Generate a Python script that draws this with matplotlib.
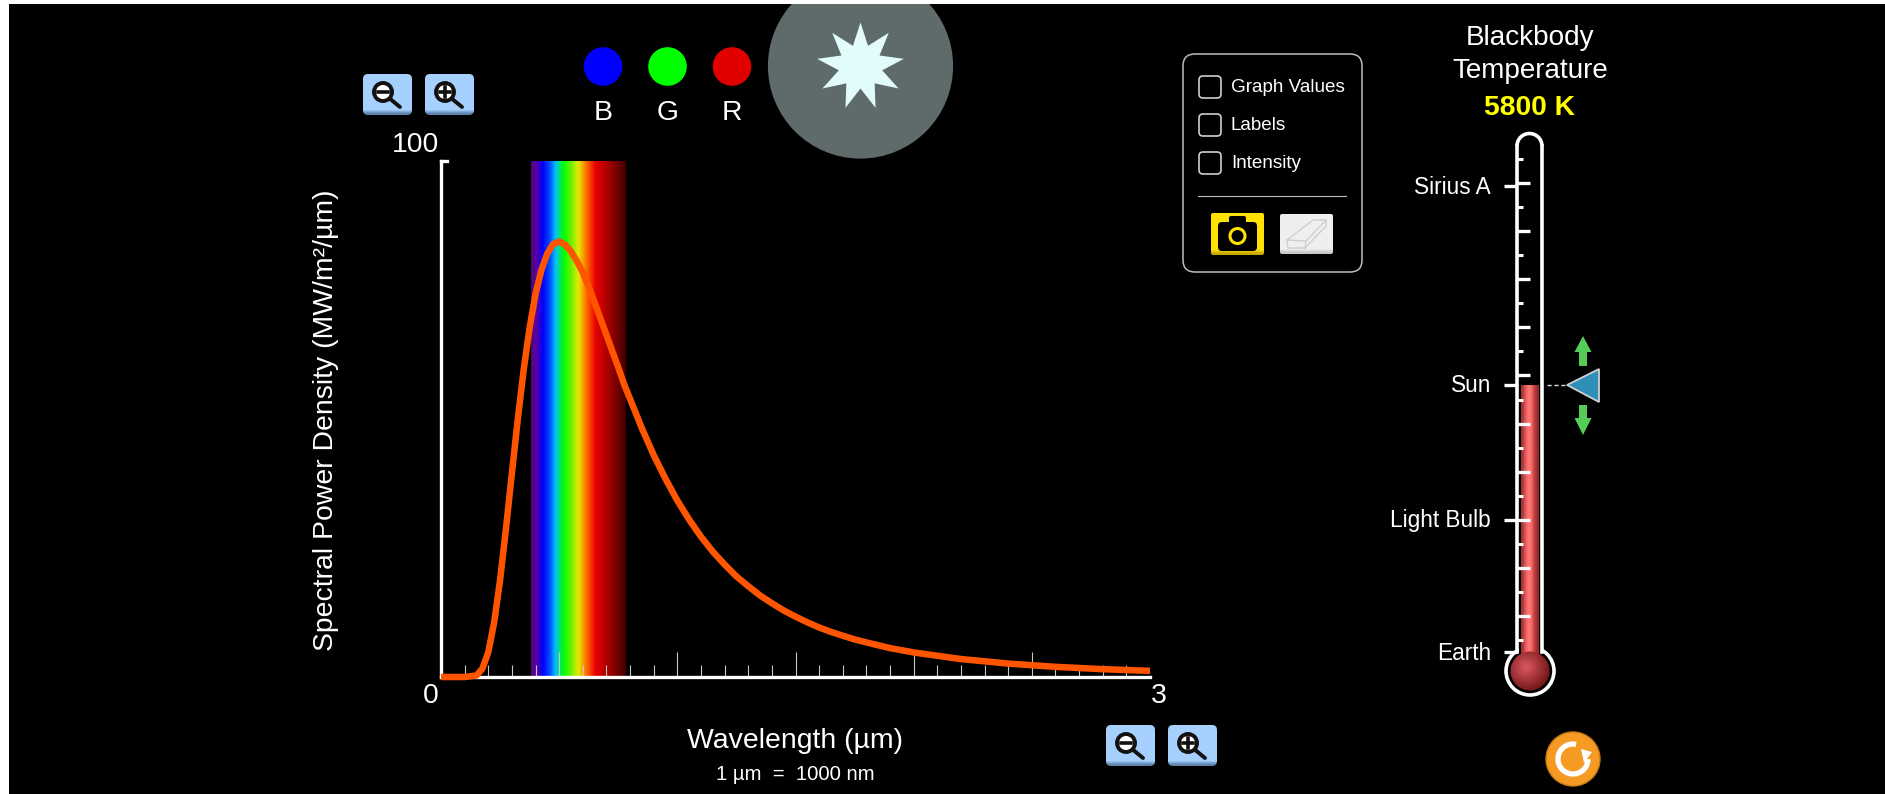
import numpy as np
import matplotlib
matplotlib.use('Agg')
import matplotlib.pyplot as plt
from matplotlib.colors import to_rgb
from matplotlib.patches import Circle, Rectangle, FancyBboxPatch, Polygon, Arc

plt.rcParams['font.family'] = ['Liberation Sans', 'DejaVu Sans']

# curve (wavelength in um, MW/m2/um)
wavelength = [0, 0.1, 0.15, 0.175, 0.2, 0.225, 0.25, 0.275, 0.3, 0.325, 0.35, 0.375, 0.4, 0.425,
              0.45, 0.475, 0.5, 0.525, 0.55, 0.575, 0.6, 0.625, 0.65, 0.675, 0.7, 0.725, 0.75, 0.775,
              0.8, 0.85, 0.9, 0.95, 1.0, 1.05, 1.1, 1.15, 1.2, 1.25, 1.3, 1.35, 1.4, 1.45, 1.5, 1.55,
              1.6, 1.65, 1.7, 1.75, 1.8, 1.9, 2.0, 2.2, 2.4, 2.6, 2.8, 3.0]
power = [0, 0, 0.3, 1.6, 4.8, 10.6, 18.8, 28.8, 39.5, 50.0, 59.6, 67.7, 74.2, 78.9,
         82.1, 83.9, 84.4, 83.8, 82.5, 80.6, 78.4, 75.6, 72.6, 69.4, 66.3, 63.1, 60.0, 56.7,
         53.9, 48.2, 43.0, 38.4, 34.2, 30.5, 27.2, 24.3, 21.8, 19.5, 17.6, 15.8, 14.3, 12.9, 11.7, 10.6,
         9.6, 8.74, 8.0, 7.29, 6.7, 5.6, 4.76, 3.48, 2.60, 1.97, 1.52, 1.19]

# visible band
band_pos = [0.38, 0.40, 0.43, 0.46, 0.483, 0.517, 0.55, 0.58, 0.618, 0.652, 0.70, 0.78]
band_col = ['#4a0a70', '#6000a0', '#0000ff', '#0050ff', '#00c0ff', '#00ff00', '#70f000', '#e8e800',
            '#ff6000', '#e80000', '#b00000', '#400000']

major_ticks = [0.5, 1.0, 1.5, 2.0, 2.5]
minor_ticks = [i / 10 for i in range(1, 30) if i % 5 != 0]

therm_labels = ['Sirius A', 'Sun', 'Light Bulb', 'Earth']
therm_label_y = [187, 386, 521, 653]
check_labels = ['Graph Values', 'Labels', 'Intensity']
check_y = [87, 125, 163]

FS = 20.4
fig = plt.figure(figsize=(18.85, 7.94), dpi=100, facecolor='black')

# main plot, placed at its pixel position
x0, x1, y_top, y_bot = 441, 1150, 161, 677
ax = fig.add_axes([x0 / 1885, 1 - y_bot / 794, (x1 - x0) / 1885, (y_bot - y_top) / 794], facecolor='black')
ax.set_xlim(0, 3)
ax.set_ylim(0, 100)

xs = np.linspace(0.38, 0.78, 240)
rgb = np.array([to_rgb(c) for c in band_col])
grad = np.stack([np.interp(xs, band_pos, rgb[:, i]) for i in range(3)], axis=1)[None, :, :]
ax.imshow(grad, extent=[0.38, 0.78, 0, 100], aspect='auto', zorder=1)
ax.set_xlim(0, 3)
ax.set_ylim(0, 100)

ax.set_xticks(major_ticks)
ax.set_xticks(minor_ticks, minor=True)
ax.set_yticks([])
ax.tick_params(axis='x', which='major', direction='in', length=18, width=0.8, color='#c8c8c8', labelbottom=False)
ax.tick_params(axis='x', which='minor', direction='in', length=9, width=0.8, color='#c8c8c8')
ax.spines['top'].set_visible(False)
ax.spines['right'].set_visible(False)
for s in ['left', 'bottom']:
    ax.spines[s].set_color('white')
    ax.spines[s].set_linewidth(2.4)
ax.plot([0, 0.025], [100, 100], color='white', lw=2.4, clip_on=False, zorder=3)
ax.plot(wavelength, power, color='#ff5500', lw=4.7, clip_on=False, zorder=4,
        solid_capstyle='butt', solid_joinstyle='round')

# everything around the plot in pixel coordinates
ov = fig.add_axes([0, 0, 1, 1], facecolor='none')
ov.axis('off')


def button(bx0, by0, bx1, by1, top, bottom, rad=5):
    box = FancyBboxPatch((bx0 + rad, by0 + rad), bx1 - bx0 - 2 * rad, by1 - by0 - 2 * rad,
                         boxstyle='round,pad=%d,rounding_size=%d' % (rad, rad), fc='none', ec='none')
    ov.add_patch(box)
    c = np.array([to_rgb(top)] * 11 + [to_rgb(bottom)])[:, None, :]
    im = ov.imshow(c, extent=[bx0, bx1, by1, by0], aspect='auto', interpolation='bilinear', zorder=2)
    im.set_clip_path(box)


def zoom_button(bx, by, plus):
    button(bx, by, bx + 49, by + 41, '#a6d0fd', '#5f86ad')
    cx, cy = bx + 20, by + 18
    ov.plot([cx + 6, bx + 37], [cy + 6, by + 33], color='#111111', lw=2.8, zorder=3, solid_capstyle='round')
    ov.add_patch(Circle((cx, cy), 9, fc='white', ec='#111111', lw=2.8, zorder=4))
    ov.plot([cx - 5, cx + 5], [cy, cy], color='#111111', lw=2.6, zorder=5)
    if plus:
        ov.plot([cx, cx], [cy - 5, cy + 5], color='#111111', lw=2.6, zorder=5)


zoom_button(363, 74, False)
zoom_button(425, 74, True)
zoom_button(1106, 725, False)
zoom_button(1168, 725, True)

# axis texts
ov.text(416, 145, '100', color='white', fontsize=FS, ha='center', va='center')
ov.text(431, 696, '0', color='white', fontsize=FS, ha='center', va='center')
ov.text(1159, 696, '3', color='white', fontsize=FS, ha='center', va='center')
ov.text(326, 420, 'Spectral Power Density (MW/m²/µm)', color='white', fontsize=FS, rotation=90, ha='center', va='center')
ov.text(795, 741, 'Wavelength (µm)', color='white', fontsize=FS, ha='center', va='center')
ov.text(795, 775, '1 µm  =  1000 nm', color='white', fontsize=14.6, ha='center', va='center')

# BGR dots
for cx, col, lab in zip([603, 667.5, 732], ['#0000ff', '#00ff00', '#e00000'], ['B', 'G', 'R']):
    ov.add_patch(Circle((cx, 66.5), 19.3, fc=col, ec='none'))
    ov.text(cx, 113, lab, color='white', fontsize=FS, ha='center', va='center')

# star
ov.add_patch(Circle((860.5, 66), 92.6, fc='#5e6b6a', ec='none'))
ang = np.radians(-90 + np.arange(18) * 20)
rad = np.where(np.arange(18) % 2 == 0, 44, 22)
ov.add_patch(Polygon(np.c_[860.5 + rad * np.cos(ang), 66.5 + rad * np.sin(ang)], fc='#e2fcfc', ec='none', zorder=3))

# options panel
ov.add_patch(FancyBboxPatch((1195, 66), 155, 194, boxstyle='round,pad=12,rounding_size=12', fc='black', ec='#bdbdbd', lw=1.1))
for y, lab in zip(check_y, check_labels):
    ov.add_patch(FancyBboxPatch((1203, y - 7), 14, 14, boxstyle='round,pad=4,rounding_size=4', fc='black', ec='#cfcfcf', lw=1.2))
    ov.text(1231, y + 1, lab, color='white', fontsize=13.6, ha='left', va='center')
ov.plot([1198, 1346], [196, 196], color='#bbbbbb', lw=0.8)

# camera
button(1211, 213, 1264, 255, '#ffe200', '#c8a800', rad=2)
ov.add_patch(FancyBboxPatch((1221, 225), 33, 23, boxstyle='round,pad=3,rounding_size=4', fc='black', ec='none', zorder=3))
ov.add_patch(FancyBboxPatch((1231, 218), 13, 6, boxstyle='round,pad=2,rounding_size=2', fc='black', ec='none', zorder=3))
ov.add_patch(Circle((1237.5, 236), 7.5, fc='black', ec='#ffe200', lw=2.2, zorder=4))
# eraser
button(1280, 214, 1333, 254, '#efefef', '#c8c8c8', rad=2)
ov.add_patch(Polygon([(1287, 240), (1313, 220), (1326, 220), (1326, 226), (1305, 248), (1288, 248)],
                     fc='#efefef', ec='#cfcfcf', lw=1, zorder=3))
ov.plot([1287, 1306, 1326], [240, 241, 220], color='#cfcfcf', lw=1, zorder=4)
ov.plot([1306, 1305], [241, 248], color='#cfcfcf', lw=1, zorder=4)

# thermometer title
ov.text(1530, 38, 'Blackbody', color='white', fontsize=20.1, ha='center', va='center')
ov.text(1530, 71, 'Temperature', color='white', fontsize=20.1, ha='center', va='center')
ov.text(1530, 108, '5800 K', color='#ffff00', fontsize=20.3, fontweight='bold', ha='center', va='center')

# tube
WHITE_W = 2.6
ov.plot([1517, 1517], [146, 652], color='white', lw=WHITE_W, zorder=5)
ov.plot([1542, 1542], [146, 652], color='white', lw=WHITE_W, zorder=5)
ov.add_patch(Arc((1529.5, 146), 25, 25, theta1=180, theta2=360, color='white', lw=WHITE_W, zorder=5))

fill = np.array([to_rgb(c) for c in ['#a83434', '#e05858', '#ff7676', '#f86a6a', '#c04040', '#982a2a']])[None, :, :]
ov.imshow(fill, extent=[1521, 1539, 660, 385], aspect='auto', interpolation='bilinear', zorder=3)

# bulb
ov.add_patch(Circle((1530, 671), 24, fc='black', ec='white', lw=WHITE_W, zorder=4))
ov.add_patch(Rectangle((1518.5, 640), 22.5, 20, fc='black', ec='none', zorder=4))
ov.imshow(fill, extent=[1521, 1539, 660, 640], aspect='auto', interpolation='bilinear', zorder=4.5)
gy, gx = np.mgrid[-1:1:80j, -1:1:80j]
dist = np.clip(np.hypot(gx + 0.2, gy + 0.2) / 1.25, 0, 1)[:, :, None]
bulb = np.array(to_rgb('#dc5862')) * (1 - dist) + np.array(to_rgb('#701616')) * dist
im = ov.imshow(bulb, extent=[1510, 1550, 691, 651], aspect='auto', zorder=6)
im.set_clip_path(Circle((1530, 671), 19.5, transform=ov.transData))

for k in range(10):
    y = 183 + k * 48.1
    ov.plot([1517, 1530], [y, y], color='white', lw=2.4, zorder=6, solid_capstyle='butt')
for k in range(11):
    y = 159 + k * 48.1
    ov.plot([1517, 1523], [y, y], color='white', lw=2.2, zorder=6, solid_capstyle='butt')
for y, lab in zip(therm_label_y, therm_labels):
    ov.plot([1504, 1517], [y - 1, y - 1], color='white', lw=2.4, zorder=6, solid_capstyle='butt')
    ov.text(1491, y, lab, color='white', fontsize=16.3, ha='right', va='center')

# slider
ov.plot([1547, 1567], [385, 385], color='#dddddd', lw=1, ls=(0, (3, 2)))
ov.add_patch(Polygon([(1567, 385), (1599, 369), (1599, 402)], fc='#2f8fb8', ec='#d0d0d0', lw=1.3, zorder=3))
ov.add_patch(Polygon([(1583, 336), (1591.5, 352), (1587, 352), (1587, 366), (1579, 366), (1579, 352), (1574.5, 352)],
                     fc='#55cc55', ec='none'))
ov.add_patch(Polygon([(1583, 435), (1591.5, 418), (1587, 418), (1587, 405), (1579, 405), (1579, 418), (1574.5, 418)],
                     fc='#55cc55', ec='none'))

# reset
ov.add_patch(Circle((1573, 759), 27, fc='#f59a23', ec='#c87a18', lw=1))
ov.add_patch(Arc((1573, 759), 30, 30, theta1=0, theta2=282, color='white', lw=3.8, zorder=3))
ov.add_patch(Polygon([(1581, 749), (1592, 752), (1584, 763)], fc='white', ec='none', zorder=3))

# white page strips
ov.add_patch(Rectangle((0, 0), 1885, 4, fc='white', ec='none', zorder=20))
ov.add_patch(Rectangle((0, 0), 9, 794, fc='white', ec='none', zorder=20))
ov.set_xlim(0, 1885)
ov.set_ylim(794, 0)

plt.savefig('out.png', dpi=100, facecolor='black')
